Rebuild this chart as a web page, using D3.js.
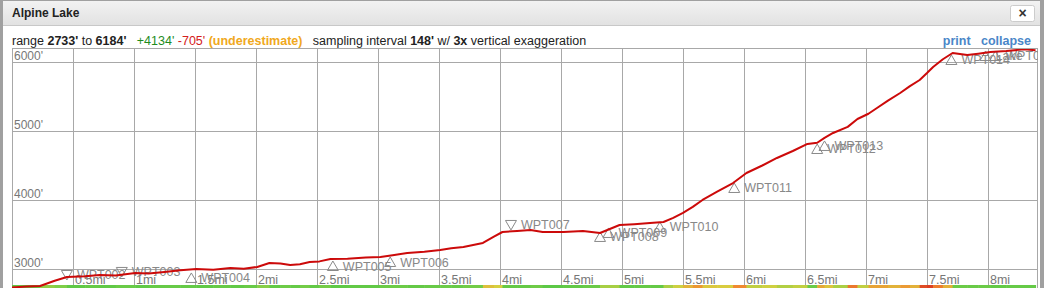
<!DOCTYPE html>
<html>
<head>
<meta charset="utf-8">
<script src="https://cdn.jsdelivr.net/npm/d3@7"></script>
<style>
  body { margin: 0; background: #fff; }
  svg { display: block; font-family: "Liberation Sans", Arial, sans-serif; }
</style>
</head>
<body>
<div id="chart"></div>
<script>
// profile, distance in miles / elevation in feet
const dist = [0,0.12,0.23,0.35,0.45,0.6,0.72,0.85,1.01,1.12,1.25,1.38,1.51,1.65,1.79,1.9,2.01,2.11,2.2,2.28,2.36,2.44,2.52,2.61,2.75,2.9,3.02,3.12,3.24,3.38,3.51,3.6,3.7,3.86,3.95,4.02,4.14,4.25,4.35,4.52,4.68,4.82,4.9,4.98,5.1,5.23,5.34,5.42,5.5,5.58,5.66,5.78,5.91,6.02,6.15,6.27,6.4,6.52,6.6,6.66,6.73,6.85,6.93,7.02,7.09,7.18,7.28,7.36,7.44,7.5,7.55,7.63,7.71,7.83,7.92,8.02,8.15,8.3,8.39];
const elev = [2733,2745,2754,2830,2884,2895,2913,2905,2942,2935,2957,2980,3000,2990,3014,3005,3029,3087,3080,3058,3070,3101,3110,3145,3150,3165,3174,3200,3232,3250,3275,3300,3319,3377,3470,3536,3551,3565,3536,3536,3551,3522,3580,3638,3650,3667,3681,3740,3812,3900,4000,4120,4246,4391,4500,4609,4710,4812,4830,4900,4971,5060,5174,5250,5333,5440,5551,5650,5739,5840,5928,6040,6130,6101,6120,6145,6160,6184,6170];

const wptNames = ["WPT002","WPT003","WPT004","WPT005","WPT006","WPT007","WPT008","WPT009","WPT010","WPT011","WPT012","WPT013","WPT014","Lake","WPT015"];
const wptDist  = [0.45,0.90,1.47,2.63,3.10,4.09,4.82,4.89,5.31,5.92,6.60,6.66,7.70,7.98,8.06];
const wptElev  = [2913,2957,2870,3043,3101,3638,3464,3522,3609,4174,4739,4783,6029,6087,6087];
const wptDown  = [true,true,false,false,false,true,false,false,false,false,false,false,false,false,false];

const yTicks = [3000,4000,5000,6000];
const xTicks = [0.5,1,1.5,2,2.5,3,3.5,4,4.5,5,5.5,6,6.5,7,7.5,8];

const W = 1044, H = 288;
const svg = d3.select("#chart").append("svg").attr("width", W).attr("height", H);

// window frame
svg.append("rect").attr("x",0).attr("y",0).attr("width",W).attr("height",H).attr("fill","#a0a0a0");
svg.append("rect").attr("x",3).attr("y",1).attr("width",1037).attr("height",H).attr("fill","#fff");
const grad = svg.append("defs").append("linearGradient").attr("id","tb").attr("x1",0).attr("x2",0).attr("y1",0).attr("y2",1);
grad.append("stop").attr("offset","0%").attr("stop-color","#f2f2f2");
grad.append("stop").attr("offset","100%").attr("stop-color","#e2e2e2");
svg.append("rect").attr("x",3).attr("y",1).attr("width",1037).attr("height",24).attr("fill","url(#tb)");
svg.append("line").attr("x1",3).attr("x2",1040).attr("y1",25.5).attr("y2",25.5).attr("stroke","#c8c8c8");
svg.append("text").attr("x",12).attr("y",17).attr("font-size",12).attr("font-weight","bold").attr("fill","#222").text("Alpine Lake");
svg.append("rect").attr("x",1010.5).attr("y",5.5).attr("width",24).attr("height",16).attr("rx",2)
   .attr("fill","#fff").attr("stroke","#ccc");
svg.append("text").attr("x",1022.5).attr("y",18).attr("text-anchor","middle").attr("font-size",14)
   .attr("font-weight","bold").attr("fill","#333").text("\u00d7");

// info line
const info = svg.append("text").attr("x",12).attr("y",45).attr("font-size",12.5).attr("fill","#222");
[["range ","normal","#222"],["2733'","bold","#222"],[" to ","normal","#222"],["6184'","bold","#222"],
 ["\u00a0\u00a0\u00a0+4134'","normal","#1e8c1e"],[" -705'","normal","#d42020"],[" (underestimate)","bold","#f0a820"],
 ["\u00a0\u00a0\u00a0sampling interval ","normal","#222"],["148'","bold","#222"],[" w/ ","normal","#222"],
 ["3x","bold","#222"],[" vertical exaggeration","normal","#222"]]
  .forEach(s => info.append("tspan").attr("font-weight",s[1]).attr("fill",s[2]).text(s[0]));
svg.append("text").attr("x",1031).attr("y",45).attr("text-anchor","end").attr("font-size",12.5)
   .attr("font-weight","bold").attr("fill","#4a86c8").text("print\u00a0\u00a0\u00a0collapse");

// scales
const x = d3.scaleLinear().domain([0, 8.4]).range([12, 1036.8]);
const y = d3.scaleLinear().domain([2733, 6184]).range([287.4, 49.3]);

const plot = svg.append("g");
plot.append("defs").append("clipPath").attr("id","pc")
    .append("rect").attr("x",12).attr("y",49).attr("width",1026).attr("height",240);

// grid
plot.selectAll("line.h").data(yTicks).enter().append("line")
    .attr("x1",12).attr("x2",1038).attr("y1",d => Math.round(y(d))+0.5).attr("y2",d => Math.round(y(d))+0.5)
    .attr("stroke","#a8a8a8");
plot.selectAll("line.v").data(xTicks).enter().append("line")
    .attr("x1",d => Math.round(x(d))+0.5).attr("x2",d => Math.round(x(d))+0.5).attr("y1",49).attr("y2",288)
    .attr("stroke","#a8a8a8");
plot.append("rect").attr("x",12.5).attr("y",48.5).attr("width",1025).attr("height",245)
    .attr("fill","none").attr("stroke","#a8a8a8");

plot.selectAll("text.yl").data(yTicks).enter().append("text")
    .attr("x",14).attr("y",d => Math.round(y(d))-2).attr("font-size",12).attr("fill","#777")
    .text(d => d + "'");
plot.selectAll("text.xl").data(xTicks).enter().append("text")
    .attr("x",d => Math.round(x(d))+2).attr("y",284).attr("font-size",12.5).attr("fill","#777")
    .text(d => d + "mi");

// slope strip
const pts = dist.map((d,i) => ({d: d, e: elev[i]}));
const slopeCol = d3.scaleLinear().domain([0, 0.1, 0.18, 0.25, 0.35])
    .range(["#5cc846","#7cce48","#d8d040","#f08a30","#d83020"]).clamp(true);
const segs = pts.slice(1).map((p,i) => ({d0: pts[i].d, d1: p.d, g: Math.abs(p.e-pts[i].e)/((p.d-pts[i].d)*5280)}));
plot.selectAll("rect.sl").data(segs).enter().append("rect")
    .attr("x",s => x(s.d0)).attr("width",s => x(s.d1)-x(s.d0)+0.5)
    .attr("y",285).attr("height",3).attr("fill",s => slopeCol(s.g));

// waypoints
const wg = plot.append("g").attr("clip-path","url(#pc)");
wptNames.forEach((n,i) => {
  const cx = x(wptDist[i]), cy = y(wptElev[i]);
  const tri = wptDown[i]
    ? [[cx-5.5,cy-4.5],[cx+5.5,cy-4.5],[cx,cy+5]]
    : [[cx-5.5,cy+4.5],[cx+5.5,cy+4.5],[cx,cy-5]];
  wg.append("path").attr("d", d3.line()(tri) + "Z").attr("fill","none").attr("stroke","#8a8a8a");
  wg.append("text").attr("x",cx+10).attr("y",cy).attr("dy","0.36em")
    .attr("font-size",12.5).attr("fill","#888").text(n);
});

// profile line
wg.append("path").datum(pts)
  .attr("d", d3.line().x(p => x(p.d)).y(p => y(p.e)))
  .attr("fill","none").attr("stroke","#cc0a0a").attr("stroke-width",2).attr("stroke-linejoin","round");
</script>
</body>
</html>
